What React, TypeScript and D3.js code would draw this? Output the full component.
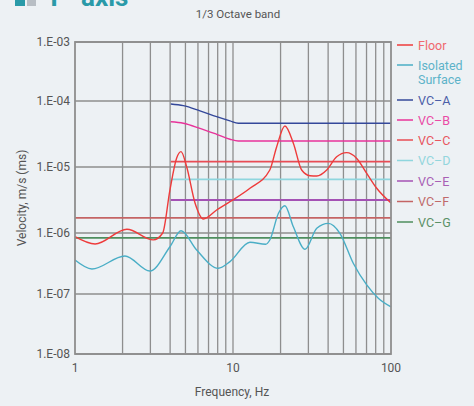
import React from "react";
import * as d3 from "d3";

// measured spectra (frequency in Hz, velocity in m/s)
const floorFreq = [1.0, 1.34, 2.13, 3.13, 3.59, 3.99, 4.4, 4.69, 5.09, 5.75, 6.49, 7.88, 9.57, 12.8, 17.1, 18.9, 21.3, 24.1, 27.2, 30.7, 33.9, 39.2, 45.3, 52.4, 60.7, 70.2, 81.2, 100];
const floorVel = [8.7e-7, 6.6e-7, 1.14e-6, 7.7e-7, 1.0e-6, 4.5e-6, 1.37e-5, 1.71e-5, 1.01e-5, 2.85e-6, 1.63e-6, 2.23e-6, 2.98e-6, 4.76e-6, 9.0e-6, 2.03e-5, 4.18e-5, 2.29e-5, 9.0e-6, 7.38e-6, 7.3e-6, 9.0e-6, 1.43e-5, 1.65e-5, 1.35e-5, 8.03e-6, 4.76e-6, 2.85e-6];

const isoFreq = [1.0, 1.28, 2.07, 2.98, 3.99, 4.69, 5.89, 8.07, 9.57, 12.8, 16.1, 17.1, 19.4, 21.3, 24.1, 28.6, 33.9, 40.1, 47.5, 57.7, 70.2, 83.1, 100];
const isoVel = [3.6e-7, 2.57e-7, 4.2e-7, 2.38e-7, 5.96e-7, 1.08e-6, 5.26e-7, 2.64e-7, 3.39e-7, 7.05e-7, 6.53e-7, 7.68e-7, 1.99e-6, 2.59e-6, 1.24e-6, 5.4e-7, 1.18e-6, 1.4e-6, 9.9e-7, 3.19e-7, 1.41e-7, 8.5e-8, 6.1e-8];

const vcaFreq = [4.04, 4.85, 6.18, 7.88, 9.57, 10.8, 100];
const vcaVel = [9.0e-5, 8.5e-5, 7.1e-5, 5.8e-5, 5.0e-5, 4.6e-5, 4.6e-5];
const vcbFreq = [4.04, 4.85, 6.18, 7.88, 9.57, 10.8, 100];
const vcbVel = [4.85e-5, 4.6e-5, 3.85e-5, 3.13e-5, 2.63e-5, 2.48e-5, 2.48e-5];

// flat criteria: [name, level, starting frequency]
const flatNames = ["VC-C", "VC-D", "VC-E", "VC-F", "VC-G"];
const flatLevels = [1.21e-5, 6.5e-6, 3.16e-6, 1.7e-6, 8.3e-7];
const flatStart = [4.04, 4.04, 4.04, 1, 1];

const yTicks = [1e-8, 1e-7, 1e-6, 1e-5, 1e-4, 1e-3];
const yTickLabels = ["1.E-08", "1.E-07", "1.E-06", "1.E-05", "1.E-04", "1.E-03"];
const xTicks = [1, 10, 100];
const xGrid = [2, 3, 4, 5, 6, 7, 8, 9, 10, 20, 30, 40, 50, 60, 70, 80, 90];

const legendNames = ["Floor", "Isolated\nSurface", "VC\u2013A", "VC\u2013B", "VC\u2013C", "VC\u2013D", "VC\u2013E", "VC\u2013F", "VC\u2013G"];
const lineColors = ["#ee3b3b", "#4aaec6", "#34489a", "#e8339a", "#e84c55", "#8fd6de", "#a452b4", "#c46464", "#4e8e5e"];
const textColors = ["#f0686e", "#5db3c9", "#4b5ea8", "#ea4aa5", "#e85560", "#93d6dd", "#a860b4", "#c06a6a", "#5a9066"];

const W = 474;
const H = 406;
const font = "Roboto, 'DejaVu Sans', sans-serif";

export default function App() {
  const x = d3.scaleLog().domain([1, 100]).range([75, 391]);
  // the original decades are not evenly spaced, so use a piecewise log scale
  const y = d3.scaleLog().domain(yTicks).range([354, 294, 233, 167, 101, 42]);

  const line = d3
    .line<[number, number]>()
    .x((d) => x(d[0]))
    .y((d) => y(d[1]))
    .curve(d3.curveMonotoneX);

  const zip = (a: number[], b: number[]) => a.map((v, i) => [v, b[i]] as [number, number]);

  const legendY = [45, 65, 100, 120, 140, 160.5, 181, 201.5, 222];

  return (
    <svg width={W} height={H} style={{ position: "absolute", left: 0, top: 0, background: "#edf1f4" }} fontFamily={font}>
      <rect width={W} height={H} fill="#edf1f4" />
      {/* header cut at the top */}
      <rect x={15} y={-6} width={10} height={12} fill="#2a9aa8" />
      <rect x={27} y={-6} width={9} height={12} fill="#b8bec4" />
      <text x={46} y={6} fontSize={26} fontWeight="bold" fill="#2a9aa8">Y</text>
      <text x={81} y={6} fontSize={26} fontWeight="bold" fill="#2a9aa8">axis</text>
      <text x={238} y={18} textAnchor="middle" fontSize={11.5} fill="#555">1/3 Octave band</text>

      {/* grid */}
      {xGrid.map((f) => (
        <line key={f} x1={x(f)} x2={x(f)} y1={42} y2={354} stroke="#8e8e8e" strokeWidth={1.3} />
      ))}
      {yTicks.map((t) => (
        <line key={t} x1={75} x2={391} y1={y(t)} y2={y(t)} stroke="#8e8e8e" strokeWidth={1.5} />
      ))}

      {/* criteria */}
      {flatNames.map((n, i) => (
        <line key={n} x1={x(flatStart[i])} x2={x(100)} y1={y(flatLevels[i])} y2={y(flatLevels[i])} stroke={lineColors[i + 4]} strokeWidth={1.8} />
      ))}
      <path d={line(zip(vcaFreq, vcaVel)) || ""} fill="none" stroke={lineColors[2]} strokeWidth={1.4} />
      <path d={line(zip(vcbFreq, vcbVel)) || ""} fill="none" stroke={lineColors[3]} strokeWidth={1.4} />

      {/* measurements */}
      <path d={line(zip(isoFreq, isoVel)) || ""} fill="none" stroke={lineColors[1]} strokeWidth={1.4} />
      <path d={line(zip(floorFreq, floorVel)) || ""} fill="none" stroke={lineColors[0]} strokeWidth={1.4} />

      {/* frame */}
      <rect x={75} y={42} width={316} height={312} fill="none" stroke="#8e8e8e" strokeWidth={1.8} />

      {/* axes labels */}
      {yTicks.map((t, i) => (
        <text key={t} x={70} y={y(t)} dy="0.35em" textAnchor="end" fontSize={12} fill="#555">
          {yTickLabels[i]}
        </text>
      ))}
      {xTicks.map((t) => (
        <text key={t} x={x(t)} y={372} textAnchor="middle" fontSize={12} fill="#555">
          {t}
        </text>
      ))}
      <text x={232} y={396} textAnchor="middle" fontSize={12} fill="#555">Frequency, Hz</text>
      <text transform="translate(26,198) rotate(-90)" textAnchor="middle" fontSize={12} fill="#555">
        Velocity, m/s (ms)
      </text>

      {/* legend */}
      {legendNames.map((n, i) => (
        <g key={n}>
          <line x1={397} x2={413} y1={legendY[i]} y2={legendY[i]} stroke={lineColors[i]} strokeWidth={1.5} />
          <text x={418} y={legendY[i]} dy="0.36em" fontSize={12.5} fill={textColors[i]}>
            {n.split("\n").map((s, j) => (
              <tspan key={j} x={418} dy={j === 0 ? "0.36em" : 14.5}>
                {s}
              </tspan>
            ))}
          </text>
        </g>
      ))}
    </svg>
  );
}
